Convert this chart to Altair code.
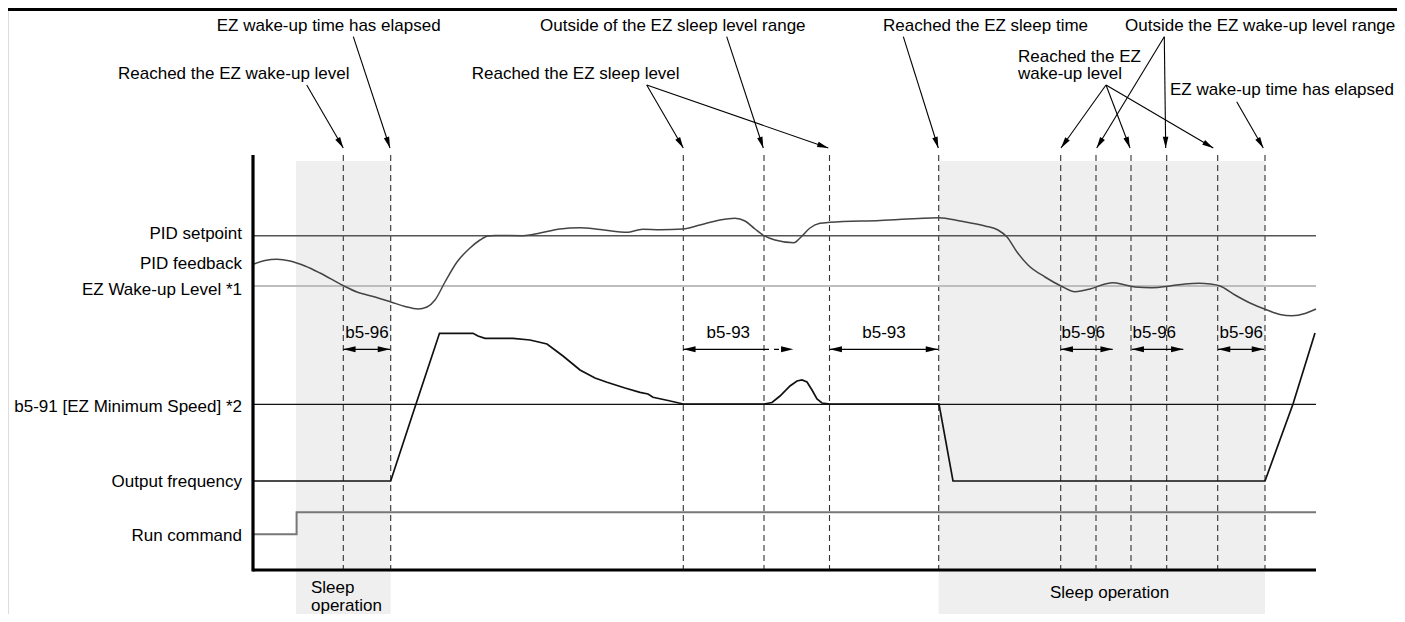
import altair as alt
import pandas as pd
import math

# ---------------- data (diagram coordinates: t = time axis, v = vertical level, larger = lower) -------------
# PID feedback curve
fb_t = [253, 265, 277, 290, 305, 320, 343, 357, 375, 391, 405, 418, 427, 435, 445, 457, 470, 480, 488, 495,
        523, 540, 560, 580, 600, 628, 636, 643, 660, 683, 700, 720, 735, 745, 755, 764, 775, 794, 800, 810,
        820, 830, 880, 939, 960, 985, 998, 1007, 1017, 1028, 1045, 1061, 1075, 1090, 1105, 1113, 1125, 1135,
        1152, 1170, 1185, 1199, 1210, 1220, 1235, 1250, 1267, 1280, 1292, 1305, 1316]
fb_v = [264.3, 260.5, 259.3, 261, 266, 273, 285.5, 292, 297, 302, 306.5, 309, 307, 300, 282, 262, 248, 240, 236, 235.5,
        235.7, 233, 229, 227.7, 229.5, 232.3, 230.5, 229.3, 229.7, 229, 225, 220, 218.3, 221, 229, 235.7, 240, 242.7, 238, 228,
        223.3, 222.3, 220.5, 217.7, 221, 226, 230, 237, 252, 265, 277, 286, 291.7, 289, 284, 282.7, 285, 287,
        287.7, 286, 284, 283.3, 284, 286, 295, 303, 310, 314.5, 315.7, 313.5, 309]

# Output frequency
of_t = [253, 390.7, 416, 439.5, 473, 478, 485, 513, 530, 547, 563, 580, 595, 607, 625, 640, 648, 653, 668, 683.3,
        764, 772, 780, 790, 797, 802, 807, 812, 817, 822, 830, 939, 953, 1265, 1293, 1315]
of_v = [481, 481, 404, 333.3, 333.3, 336, 338.3, 338.3, 340, 344, 356, 370, 378, 382.3, 388, 392.3, 394, 397.3, 400.5, 404,
        404, 402.5, 396, 386, 381, 380, 382, 390, 399, 403, 404, 404, 481, 481, 404, 333]

# Run command
run_t = [253, 296.6, 296.6, 1316]
run_v = [534.3, 534.3, 512.3, 512.3]

# Constant reference levels
ref_names = ["PID setpoint", "EZ Wake-up Level *1", "b5-91 [EZ Minimum Speed] *2"]
ref_v = [235.7, 286, 404.3]
ref_start, ref_end = 253, 1316

# Row labels on the left
row_labels = ["PID setpoint", "PID feedback", "EZ Wake-up Level *1", "b5-91 [EZ Minimum Speed] *2",
              "Output frequency", "Run command"]
row_label_v = [234, 264, 289.5, 406.5, 482, 536]

# Event times (dashed markers)
event_t = [343.3, 390.7, 683.3, 764, 829.5, 938.7, 1060.7, 1096, 1131, 1166.7, 1217.7, 1265]

# Sleep operation periods
sleep_t0 = [296, 938.7]
sleep_t1 = [390.7, 1265]

# Timer intervals: (start, end, label, label position)
iv_start = [343.3, 683.3, 829.7, 1060.7, 1131.7, 1218]
iv_end = [390.0, 793.3, 938.0, 1112.7, 1183.3, 1264]
iv_solid_end = [390.0, 764, 938.0, 1112.7, 1183.3, 1264]
iv_label = ["b5-96", "b5-93", "b5-93", "b5-96", "b5-96", "b5-96"]
iv_label_t = [367, 728.3, 884, 1083.3, 1154.3, 1241.3]

# Annotations (text + arrows)
ann_text = ["EZ wake-up time has elapsed", "Reached the EZ wake-up level", "Outside of the EZ sleep level range",
            "Reached the EZ sleep level", "Reached the EZ sleep time", "Outside the EZ wake-up level range",
            "Reached the EZ", "wake-up level", "EZ wake-up time has elapsed"]
ann_t = [216.7, 118, 540, 471.7, 883, 1125, 1018, 1018, 1170]
ann_v = [25.5, 74, 25.5, 74, 25.5, 25.5, 56.5, 74, 89.5]

arrow_t0 = [306.7, 353.3, 646.7, 646.7, 726.7, 903.3, 1106, 1106, 1106, 1164.3, 1164.3, 1236.7]
arrow_v0 = [85, 36.7, 85, 85, 36.7, 36.7, 85, 85, 85, 36.7, 36.7, 101.7]
arrow_t1 = [343.3, 390, 683.3, 828.3, 763.3, 938.3, 1061, 1130, 1213.3, 1096.7, 1165.7, 1263.3]
arrow_v1 = [148, 148, 148, 148, 148, 148, 148, 148, 148, 148, 148, 148]

# Frame
frame_left_t, frame_top_v, frame_bottom_v, frame_right_t = 253, 155, 570, 1316
event_top_v = 155
shade_top_v, shade_bottom_v = 161, 622
interval_v = 349.3
interval_label_v = 332.7
sleep_text = ["Sleep", "operation", "Sleep operation"]
sleep_text_t = [311, 311, 1050]
sleep_text_v = [588, 605.5, 592.5]

# ---------------- chart ----------------
FONT = "Liberation Sans"
FS = 17
xs = alt.Scale(domain=[8, 1397], nice=False, zero=False)
ys = alt.Scale(domain=[8, 614], nice=False, zero=False, reverse=True)


def X(f):
    return alt.X(f, type="quantitative", scale=xs, axis=None)


def Y(f):
    return alt.Y(f, type="quantitative", scale=ys, axis=None)


HEAD = "M0,0L-0.5,2L0.5,2Z"

shade_df = pd.DataFrame({"t0": sleep_t0, "t1": sleep_t1, "v0": shade_top_v, "v1": shade_bottom_v})
shade = alt.Chart(shade_df).mark_rect(color="#efefef").encode(
    x=X("t0"), x2="t1", y=Y("v0"), y2="v1")

ev_df = pd.DataFrame({"t": event_t, "v0": event_top_v, "v1": frame_bottom_v})
events = alt.Chart(ev_df).mark_rule(color="#333", strokeWidth=1.1, strokeDash=[6, 4]).encode(
    x=X("t"), y=Y("v0"), y2="v1")

ref_df = pd.DataFrame({"name": ref_names, "v": ref_v, "t0": ref_start, "t1": ref_end})
ref_setp = alt.Chart(ref_df.iloc[[0]]).mark_rule(color="#555", strokeWidth=1.4).encode(
    x=X("t0"), x2="t1", y=Y("v"))
ref_wake = alt.Chart(ref_df.iloc[[1]]).mark_rule(color="#bdbdbd", strokeWidth=2.2).encode(
    x=X("t0"), x2="t1", y=Y("v"))
ref_min = alt.Chart(ref_df.iloc[[2]]).mark_rule(color="#111", strokeWidth=1.2).encode(
    x=X("t0"), x2="t1", y=Y("v"))

fb_df = pd.DataFrame({"t": fb_t, "v": fb_v})
feedback = alt.Chart(fb_df).mark_line(color="#444", strokeWidth=1.5, interpolate="monotone").encode(
    x=X("t"), y=Y("v"))

of_df = pd.DataFrame({"t": of_t, "v": of_v, "i": range(len(of_t))})
outf = alt.Chart(of_df).mark_line(color="#111", strokeWidth=1.7).encode(
    x=X("t"), y=Y("v"), order="i:Q")

run_df = pd.DataFrame({"t": run_t, "v": run_v, "i": range(len(run_t))})
run = alt.Chart(run_df).mark_line(color="#777", strokeWidth=2).encode(
    x=X("t"), y=Y("v"), order="i:Q")

frame_df = pd.DataFrame({"t0": [frame_left_t, frame_left_t], "t1": [frame_left_t, frame_right_t],
                         "v0": [frame_top_v, frame_bottom_v], "v1": [frame_bottom_v + 1.5, frame_bottom_v]})
frame = alt.Chart(frame_df).mark_rule(color="#000", strokeWidth=3.2).encode(
    x=X("t0"), x2="t1", y=Y("v0"), y2="v1")

top_df = pd.DataFrame({"t0": [8], "t1": [1397], "v": [9.5]})
top_rule = alt.Chart(top_df).mark_rule(color="#000", strokeWidth=3).encode(
    x=X("t0"), x2="t1", y=Y("v"))

# intervals
iv_df = pd.DataFrame({"t0": iv_start, "t1": iv_solid_end, "t2": iv_end, "v": interval_v,
                      "label": iv_label, "lt": iv_label_t, "lv": interval_label_v})
iv_line = alt.Chart(iv_df).mark_rule(color="#000", strokeWidth=1.3).encode(
    x=X("t0"), x2="t1", y=Y("v"))
iv_dash_df = iv_df[iv_df["t1"] < iv_df["t2"]].copy()
iv_dash_df["t3"] = iv_dash_df["t2"] - 12
iv_dash = alt.Chart(iv_dash_df).mark_rule(color="#000", strokeWidth=1.3, strokeDash=[5, 5]).encode(
    x=X("t1"), x2="t3", y=Y("v"))
heads_rows = []
for a, b in zip(iv_start, iv_end):
    heads_rows.append({"t": a, "v": interval_v, "ang": 270})
    heads_rows.append({"t": b, "v": interval_v, "ang": 90})
iv_heads = alt.Chart(pd.DataFrame(heads_rows)).mark_point(
    shape=HEAD, filled=True, size=150, color="#000", opacity=1, strokeWidth=0).encode(
    x=X("t"), y=Y("v"), angle=alt.Angle("ang:Q", scale=None))
iv_text = alt.Chart(iv_df).mark_text(font=FONT, fontSize=FS, color="#000", align="center",
                                     baseline="middle").encode(
    x=X("lt"), y=Y("lv"), text="label:N")

# annotation arrows
ar_df = pd.DataFrame({"t0": arrow_t0, "v0": arrow_v0, "t1": arrow_t1, "v1": arrow_v1})
ar_df["ang"] = [(math.degrees(math.atan2(b - a, -(d - c))) + 360) % 360
                for a, b, c, d in zip(ar_df.t0, ar_df.t1, ar_df.v0, ar_df.v1)]
ar_lines = alt.Chart(ar_df).mark_rule(color="#000", strokeWidth=1.1).encode(
    x=X("t0"), x2="t1", y=Y("v0"), y2="v1")
ar_heads = alt.Chart(ar_df).mark_point(
    shape=HEAD, filled=True, size=125, color="#000", opacity=1, strokeWidth=0).encode(
    x=X("t1"), y=Y("v1"), angle=alt.Angle("ang:Q", scale=None))

ann_df = pd.DataFrame({"text": ann_text, "t": ann_t, "v": ann_v})
ann = alt.Chart(ann_df).mark_text(font=FONT, fontSize=FS, color="#000", align="left",
                                  baseline="middle").encode(
    x=X("t"), y=Y("v"), text="text:N")

rl_df = pd.DataFrame({"text": row_labels, "v": row_label_v, "t": 242})
row_text = alt.Chart(rl_df).mark_text(font=FONT, fontSize=FS, color="#000", align="right",
                                      baseline="middle").encode(
    x=X("t"), y=Y("v"), text="text:N")

sl_df = pd.DataFrame({"text": sleep_text, "t": sleep_text_t, "v": sleep_text_v})
sleep_lbl = alt.Chart(sl_df).mark_text(font=FONT, fontSize=FS, color="#000", align="left",
                                       baseline="middle").encode(
    x=X("t"), y=Y("v"), text="text:N")

chart = alt.layer(
    shade, events, ref_setp, ref_wake, ref_min, feedback, outf, run, frame, top_rule,
    iv_line, iv_dash, iv_heads, iv_text, ar_lines, ar_heads, ann, row_text, sleep_lbl
).properties(
    width=1389, height=606, padding=0,
    autosize=alt.AutoSizeParams(type="none")
).configure_view(stroke=None).configure(background="transparent")

chart.save("out.html", embed_options={"renderer": "svg", "actions": False})
